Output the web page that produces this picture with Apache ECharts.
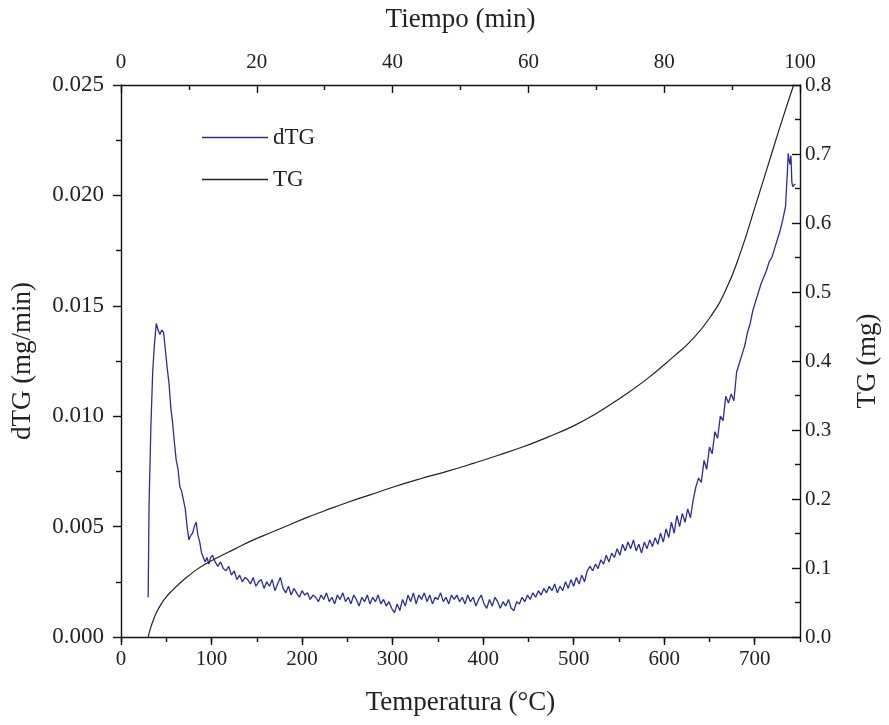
<!DOCTYPE html>
<html><head><meta charset="utf-8">
<script src="https://cdn.jsdelivr.net/npm/echarts@6/dist/echarts.min.js"></script>
<style>html,body{margin:0;padding:0;background:#fff}#c{width:889px;height:725px}</style>
</head><body><div id="c"></div>
<script>
// Temperature (°C) and dTG (mg/min)
const dtgTemp = [30,31,33,35,37,39,41,43,45,47,49,51,53,55,57,59,61,63,65,67,69,71,73,75,77,79,81,83,85,87,89,91,93,95,97,99,101,104,107,110,113,116,119,122,125,128,131,134,137,140,143,146,149,152,155,158,161,164,167,170,173,176,179,182,185,188,191,194,197,200,203,206,209,212,215,218,221,224,227,230,233,236,239,242,245,248,251,254,257,260,263,266,269,272,275,278,281,284,287,290,293,296,299,302,305,308,311,314,317,320,323,326,329,332,335,338,341,344,347,350,353,356,359,362,365,368,371,374,377,380,383,386,389,392,395,398,401,404,407,410,413,416,419,422,425,428,431,434,437,440,443,446,449,452,455,458,461,464,467,470,473,476,479,482,485,488,491,494,497,500,503,506,509,512,515,518,521,524,527,530,533,536,539,542,545,548,551,554,557,560,563,566,569,572,575,578,581,584,587,590,593,596,599,602,605,608,611,614,617,620,623,626,629,632,635,638,641,644,647,650,653,656,659,662,665,668,671,674,677,680,683,686,689,692,695,698,701,704,707,710,713,716,719,722,725,728,731,734,736,737,738,739,740,741,742,744,745];
const dtgValues = [0.0018,0.0060,0.0095,0.0120,0.0133,0.0142,0.0139,0.0137,0.0139,0.0138,0.0130,0.0122,0.0115,0.0104,0.0097,0.0088,0.0080,0.0076,0.0068,0.0066,0.0062,0.0058,0.0050,0.0044,0.0046,0.0047,0.0050,0.0052,0.0046,0.0043,0.0038,0.0036,0.0034,0.0036,0.0033,0.0036,0.0037,0.0034,0.0032,0.0034,0.0031,0.0030,0.0032,0.0028,0.0030,0.0026,0.0028,0.0025,0.0027,0.0026,0.0024,0.0027,0.0023,0.0025,0.0026,0.0022,0.0025,0.0023,0.0026,0.0021,0.0024,0.0027,0.0022,0.0020,0.0023,0.0019,0.0022,0.0020,0.0018,0.0021,0.0019,0.0020,0.0017,0.0019,0.0018,0.0016,0.0019,0.0017,0.0020,0.0016,0.0018,0.0015,0.0019,0.0017,0.0020,0.0016,0.0018,0.0015,0.0019,0.0017,0.0014,0.0018,0.0016,0.0019,0.0015,0.0018,0.0016,0.0019,0.0015,0.0017,0.0014,0.0016,0.0013,0.0011,0.0015,0.0012,0.0017,0.0014,0.0019,0.0016,0.0020,0.0015,0.0019,0.0017,0.0020,0.0016,0.0019,0.0015,0.0018,0.0017,0.0020,0.0016,0.0018,0.0015,0.0019,0.0017,0.0019,0.0016,0.0018,0.0015,0.0019,0.0016,0.0018,0.0014,0.0017,0.0019,0.0015,0.0013,0.0017,0.0014,0.0018,0.0016,0.0013,0.0016,0.0014,0.0017,0.0013,0.0012,0.0016,0.0015,0.0018,0.0016,0.0019,0.0017,0.0020,0.0018,0.0021,0.0019,0.0022,0.0020,0.0023,0.0021,0.0024,0.0020,0.0023,0.0021,0.0025,0.0022,0.0026,0.0023,0.0027,0.0024,0.0028,0.0025,0.0030,0.0032,0.0030,0.0033,0.0031,0.0035,0.0033,0.0037,0.0034,0.0038,0.0036,0.0040,0.0037,0.0042,0.0039,0.0043,0.0040,0.0044,0.0039,0.0042,0.0038,0.0043,0.0040,0.0044,0.0041,0.0045,0.0042,0.0047,0.0043,0.0049,0.0045,0.0052,0.0047,0.0055,0.0050,0.0056,0.0052,0.0058,0.0054,0.0062,0.0068,0.0072,0.0070,0.0080,0.0076,0.0086,0.0083,0.0093,0.0090,0.0100,0.0098,0.0109,0.0106,0.0110,0.0107,0.0120,0.0124,0.0128,0.0132,0.0138,0.0142,0.0148,0.0152,0.0156,0.0160,0.0163,0.0166,0.0170,0.0172,0.0176,0.0180,0.0184,0.0189,0.0195,0.0210,0.0219,0.0216,0.0214,0.0218,0.0206,0.0204,0.0205,0.0205];
// Temperature (°C) and TG (mg)
const tgTemp = [30,32,35,39,44,50,57,65,74,84,95,108,125,145,165,185,205,225,250,275,300,330,360,390,416,445,470,500,525,550,580,610,630,650,668,685,700,715,730,743];
const tgValues = [0.0,0.010,0.022,0.035,0.047,0.058,0.068,0.078,0.088,0.098,0.107,0.116,0.127,0.140,0.151,0.162,0.173,0.183,0.195,0.206,0.217,0.229,0.240,0.252,0.263,0.276,0.289,0.306,0.324,0.345,0.373,0.406,0.430,0.462,0.503,0.560,0.622,0.685,0.748,0.800];
const seriesNames = ['dTG','TG'];
const axisTitles = {bottom:'Temperatura (°C)', top:'Tiempo (min)', left:'dTG (mg/min)', right:'TG (mg)'};

const FONT = 'Liberation Serif';
const chart = echarts.init(document.getElementById('c'), null, {renderer:'canvas'});
const lineStyle = {color:'#111', width:1.4};
const lbl = {fontFamily:FONT, fontSize:21, color:'#222'};
const nameStyle = {fontFamily:FONT, fontSize:27, color:'#222'};
chart.setOption({
  animation:false,
  backgroundColor:'#fff',
  grid:{left:121, right:84, top:85, bottom:88, containLabel:false},
  legend:{
    orient:'vertical', left:197, top:121, itemWidth:66, itemHeight:1.5, itemGap:19,
    icon:'rect', data:seriesNames,
    textStyle:{fontFamily:FONT, fontSize:23, color:'#222', padding:[0,0,0,0]}
  },
  xAxis:[
    {type:'value', position:'bottom', min:0, max:750, interval:100,
     name:axisTitles.bottom, nameLocation:'middle', nameGap:52, nameTextStyle:nameStyle,
     axisLine:{show:true, onZero:false, lineStyle}, splitLine:{show:false},
     axisTick:{show:true, inside:false, length:8, lineStyle},
     minorTick:{show:false},
     axisLabel:{...lbl, margin:12, showMaxLabel:false}},
    {type:'value', position:'top', min:0, max:100, interval:20,
     name:axisTitles.top, nameLocation:'middle', nameGap:52, nameTextStyle:nameStyle,
     axisLine:{show:true, onZero:false, lineStyle}, splitLine:{show:false},
     axisTick:{show:true, inside:true, length:8, lineStyle},
     minorTick:{show:true, splitNumber:2, length:5, lineStyle:{color:'#111', width:1.4}},
     axisLabel:{...lbl, margin:12}},
    {type:'value', position:'bottom', min:0, max:750, interval:50,
     axisLine:{show:false}, splitLine:{show:false}, axisLabel:{show:false},
     axisTick:{show:true, inside:false, length:5, lineStyle}}
  ],
  yAxis:[
    {type:'value', position:'left', min:0, max:0.025, interval:0.005,
     name:axisTitles.left, nameLocation:'middle', nameGap:85, nameTextStyle:nameStyle,
     axisLine:{show:true, onZero:false, lineStyle}, splitLine:{show:false},
     axisTick:{show:true, inside:false, length:8, lineStyle},
     minorTick:{show:true, splitNumber:2, length:5, lineStyle:{color:'#111', width:1.4}},
     axisLabel:{...lbl, fontSize:23, margin:17, formatter:v=>v.toFixed(3)}},
    {type:'value', position:'right', min:0, max:0.8, interval:0.1,
     name:axisTitles.right, nameLocation:'middle', nameGap:54, nameTextStyle:nameStyle,
     axisLine:{show:true, onZero:false, lineStyle}, splitLine:{show:false},
     axisTick:{show:true, inside:true, length:8, lineStyle},
     minorTick:{show:true, splitNumber:2, length:5, lineStyle:{color:'#111', width:1.4}},
     axisLabel:{...lbl, margin:5, formatter:v=>v.toFixed(1)}}
  ],
  series:[
    {name:seriesNames[0], type:'line', xAxisIndex:0, yAxisIndex:0, showSymbol:false, symbol:'none',
     color:'#2c2c9c', lineStyle:{color:'#2c2c9c', width:1.3},
     data:dtgTemp.map((t,i)=>[t, dtgValues[i]])},
    {name:seriesNames[1], type:'line', xAxisIndex:0, yAxisIndex:1, showSymbol:false, symbol:'none',
     smooth:0.5,
     color:'#222', lineStyle:{color:'#222', width:1.2},
     data:tgTemp.map((t,i)=>[t, tgValues[i]])}
  ]
});
</script></body></html>
